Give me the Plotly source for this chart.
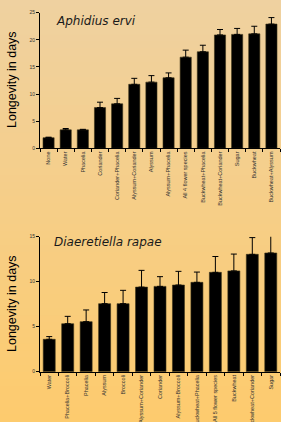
import plotly.graph_objects as go

# Aphidius ervi
ae_labels = ["None", "Water", "Phacelia", "Coriander", "Coriander+Phacelia",
             "Alyssum+Coriander", "Alyssum", "Alyssum+Phacelia", "All 4 flower species",
             "Buckwheat+Phacelia", "Buckwheat+Coriander", "Sugar", "Buckwheat",
             "Buckwheat+Alyssum"]
ae_values = [1.95, 3.4, 3.4, 7.5, 8.2, 11.8, 12.2, 13.0, 16.8, 17.8, 20.9, 21.0, 21.1, 22.9]
ae_err = [0.1, 0.25, 0.1, 1.0, 1.0, 1.1, 1.2, 0.9, 1.3, 1.2, 1.0, 1.1, 1.4, 1.2]

# Diaeretiella rapae
dr_labels = ["Water", "Phacelia+Broccoli", "Phacelia", "Alyssum", "Broccoli",
             "Alyssum+Coriander", "Coriander", "Alyssum+Broccoli", "Buckwheat+Phacelia",
             "All 5 flower species", "Buckwheat", "Buckwheat+Coriander", "Sugar"]
dr_values = [3.6, 5.33, 5.56, 7.56, 7.56, 9.4, 9.48, 9.63, 9.93, 11.04, 11.2, 13.04, 13.19]
dr_err = [0.3, 0.82, 1.3, 1.24, 1.48, 1.86, 1.08, 1.52, 1.14, 1.76, 1.87, 1.86, 1.96]

fig = go.Figure()

fig.add_trace(go.Bar(
    x=ae_labels, y=ae_values, xaxis="x", yaxis="y",
    marker=dict(color="black", line=dict(color="#3a3318", width=0.6)),
    error_y=dict(type="data", symmetric=False, array=ae_err, arrayminus=[0] * len(ae_err),
                 color="black", thickness=1, width=3),
    showlegend=False, hoverinfo="skip"))

fig.add_trace(go.Bar(
    x=dr_labels, y=dr_values, xaxis="x2", yaxis="y2",
    marker=dict(color="black", line=dict(color="#3a3318", width=0.6)),
    error_y=dict(type="data", symmetric=False, array=dr_err, arrayminus=[0] * len(dr_err),
                 color="black", thickness=1, width=3),
    showlegend=False, hoverinfo="skip"))

# background gradient stripes
top_c = (0xEF, 0xD1, 0xA0)
bot_c = (0xFD, 0xCB, 0x6E)
n = 60
shapes = []
for i in range(n):
    t = i / (n - 1)
    r = round(top_c[0] + (bot_c[0] - top_c[0]) * t)
    g = round(top_c[1] + (bot_c[1] - top_c[1]) * t)
    b = round(top_c[2] + (bot_c[2] - top_c[2]) * t)
    y1 = 1 - i / n
    y0 = 1 - (i + 1) / n
    shapes.append(dict(type="rect", xref="paper", yref="paper", x0=-0.01, x1=1.01,
                       y0=y0 - 0.002, y1=y1 + 0.002, fillcolor=f"rgb({r},{g},{b})",
                       line=dict(width=0), layer="below"))

W, H = 281, 422
xd = [40 / W, 280 / W]
tickfont = dict(family="Liberation Sans, Arial", size=5, color="#333")
xtickfont = dict(family="Liberation Sans, Arial", size=5.5, color="#333")

common_x = dict(showline=True, linecolor="black", linewidth=1, ticks="outside",
                ticklen=3, tickcolor="black", tickson="boundaries", tickangle=-90,
                tickfont=xtickfont, showgrid=False, zeroline=False, automargin=False,
                type="category")
common_y = dict(showline=True, linecolor="black", linewidth=1, ticks="outside",
                ticklen=3, tickcolor="black", tickfont=tickfont, showgrid=False,
                zeroline=False, automargin=False)

ann_font = dict(family="Liberation Sans, Arial", size=12.5, color="black")
title_font = dict(family="DejaVu Sans", size=12, color="#1a1a1a")

fig.update_layout(
    width=W, height=H,
    margin=dict(l=0, r=0, t=0, b=0),
    paper_bgcolor="#F6CC88", plot_bgcolor="rgba(0,0,0,0)",
    bargap=0.35,
    shapes=shapes,
    xaxis=dict(domain=xd, anchor="y", **common_x),
    yaxis=dict(domain=[1 - 148.3 / H, 1 - 12.7 / H], anchor="x", range=[0, 25],
               tickvals=[0, 5, 10, 15, 20, 25], **common_y),
    xaxis2=dict(domain=xd, anchor="y2", **common_x),
    yaxis2=dict(domain=[1 - 371.7 / H, 1 - 236.7 / H], anchor="x2", range=[0, 15],
                tickvals=[0, 5, 10, 15], **common_y),
    annotations=[
        dict(text="Longevity in days", textangle=-90, x=12 / W, y=1 - 80 / H,
             xanchor="center", yanchor="middle",
             xref="paper", yref="paper", showarrow=False, font=ann_font),
        dict(text="Longevity in days", textangle=-90, x=12 / W, y=1 - 304 / H,
             xanchor="center", yanchor="middle",
             xref="paper", yref="paper", showarrow=False, font=ann_font),
        dict(text="<i>Aphidius ervi</i>", x=54 / W, y=1 - 21 / H,
             xref="paper", yref="paper", showarrow=False, xanchor="left", yanchor="middle",
             font=title_font),
        dict(text="<i>Diaeretiella rapae</i>", x=51.5 / W, y=1 - 242.5 / H,
             xref="paper", yref="paper", showarrow=False, xanchor="left", yanchor="middle",
             font=title_font),
    ],
)

fig.write_html("out.html", config={"displayModeBar": False},
               post_script="document.body.style.margin='0';document.body.style.overflow='hidden';")
